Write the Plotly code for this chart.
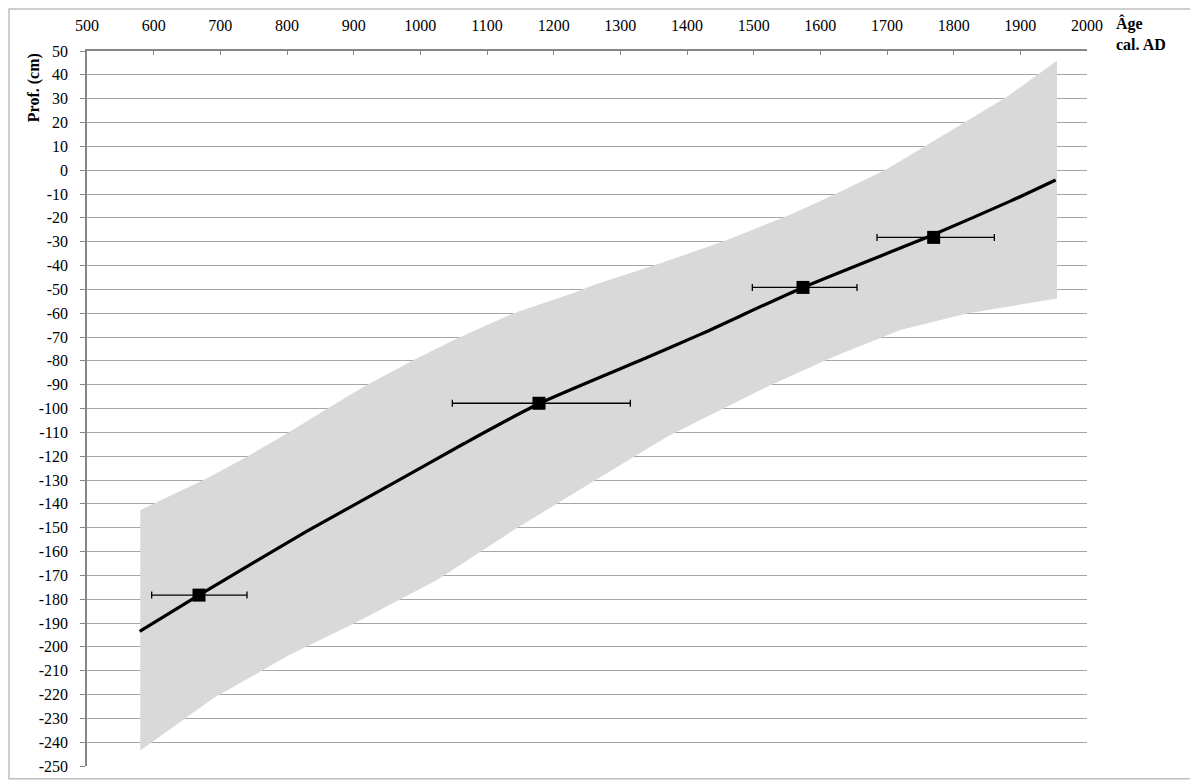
import plotly.graph_objects as go

# ---- data ----
upper_years = [580, 680, 740, 800, 865, 915, 990, 1055, 1140, 1235, 1260, 1360, 1460,
               1560, 1625, 1700, 1760, 1810, 1880, 1955]
upper_depth = [-142.6, -129.3, -120.2, -110.5, -99.3, -90.9, -79.7, -70.6, -60.0, -51.0,
               -48.2, -39.1, -29.3, -18.1, -9.7, 0.5, 10.6, 19.0, 30.8, 45.9]

lower_years = [580, 690, 800, 910, 1025, 1140, 1255, 1370, 1420, 1520, 1620, 1720, 1820, 1955]
lower_depth = [-243.5, -221.5, -204.0, -188.8, -172.0, -151.0, -131.4, -111.9, -104.8,
               -90.9, -78.3, -67.1, -60.1, -53.8]

model_years = [579, 668, 830, 965, 1065, 1179, 1340, 1420, 1574, 1770, 1885, 1953]
model_depth = [-193.5, -178.3, -151.5, -130.5, -114.8, -97.8, -78.6, -68.9, -49.2, -27.0,
               -13.0, -4.1]

date_years = [668, 1178, 1574, 1770]
date_depth = [-178.3, -97.8, -49.2, -28.2]
err_plus = [72, 137, 81, 91]
err_minus = [71, 130, 76, 85]

x_ticks = list(range(500, 2001, 100))
y_ticks = list(range(-250, 51, 10))

FONT = "Liberation Serif, Times New Roman, DejaVu Serif, serif"

fig = go.Figure()

# confidence envelope
band_x = upper_years + lower_years[::-1]
band_y = upper_depth + lower_depth[::-1]
fig.add_trace(go.Scatter(x=band_x, y=band_y, mode="lines", fill="toself",
                         fillcolor="#d9d9d9", line=dict(width=0, color="#d9d9d9"),
                         hoverinfo="skip", showlegend=False))

# age-depth model
fig.add_trace(go.Scatter(x=model_years, y=model_depth, mode="lines",
                         line=dict(color="black", width=3.2, shape="spline", smoothing=0.6),
                         showlegend=False))

# dated samples
fig.add_trace(go.Scatter(x=date_years, y=date_depth, mode="markers",
                         marker=dict(symbol="square", size=13, color="black"),
                         error_x=dict(type="data", symmetric=False, array=err_plus,
                                      arrayminus=err_minus, color="black",
                                      thickness=1.3, width=3.5),
                         showlegend=False))

fig.update_layout(
    width=1198, height=781,
    margin=dict(l=79, r=119, t=43, b=23),
    paper_bgcolor="white", plot_bgcolor="white",
    font=dict(family=FONT, size=16, color="black"),
    xaxis=dict(side="top", range=[500, 2000], tickvals=x_ticks,
               ticktext=[str(v) for v in x_ticks], automargin=False,
               showgrid=False, zeroline=False, showline=True, linecolor="#868686",
               linewidth=1.5, ticks="inside", ticklen=4, tickcolor="#868686",
               ticklabelstandoff=12, tickfont=dict(family=FONT, size=16)),
    yaxis=dict(range=[-250, 50], tickvals=y_ticks, ticktext=[str(v) for v in y_ticks],
               automargin=False,
               showgrid=True, gridcolor="#a6a6a6", gridwidth=1.2, zeroline=False,
               showline=True, linecolor="#868686", linewidth=1.5, ticks="outside",
               ticklen=5, tickcolor="#868686", ticklabelstandoff=9,
               tickfont=dict(family=FONT, size=16)),
    annotations=[
        dict(text="<b>Prof. (cm)</b>", xref="paper", yref="paper",
             x=-0.053, y=0.948, textangle=-90, showarrow=False,
             xanchor="center", yanchor="middle",
             font=dict(family=FONT, size=16, color="black")),
        dict(text="<b>Âge<br>cal. AD</b>", xref="paper", yref="paper",
             x=1.027, y=1.055, showarrow=False, align="left",
             xanchor="left", yanchor="top",
             font=dict(family=FONT, size=16, color="black")),
    ],
    shapes=[
        dict(type="rect", xref="paper", yref="paper", x0=-0.078, x1=1.13,
             y0=-0.018, y1=1.0587, line=dict(color="#bfbfbf", width=1.5),
             fillcolor="rgba(0,0,0,0)", layer="below"),
    ],
)

fig.write_html("out.html")
